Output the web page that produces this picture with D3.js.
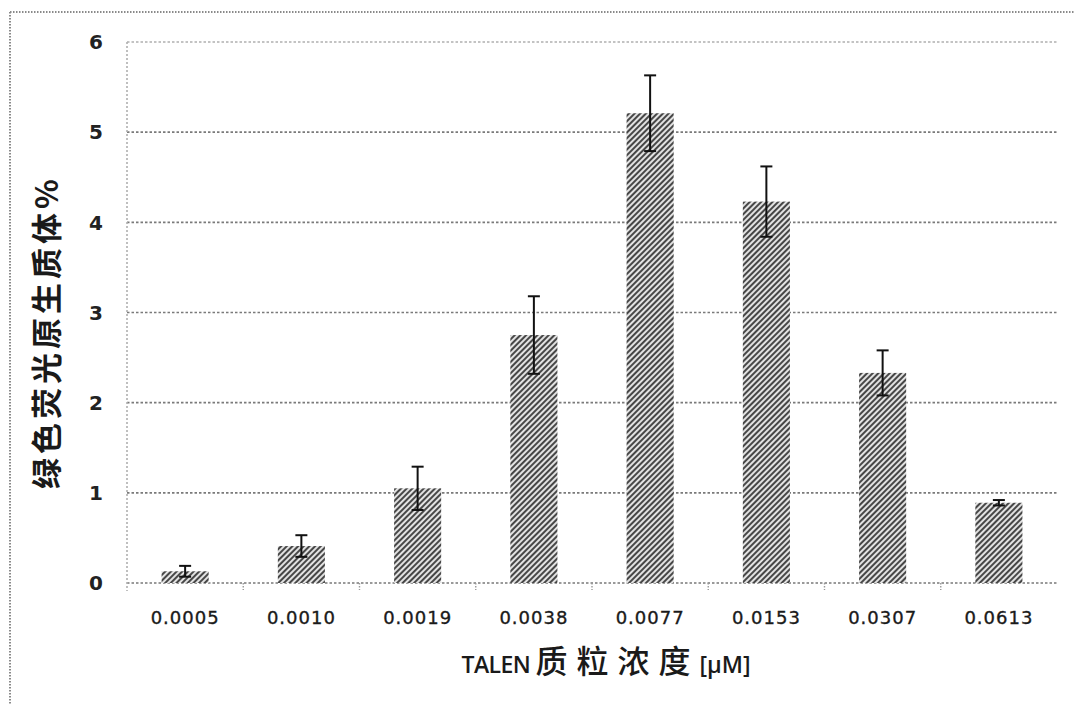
<!DOCTYPE html>
<html>
<head>
<meta charset="utf-8">
<script src="https://cdn.jsdelivr.net/npm/d3@7"></script>
<style>
  html, body { margin: 0; padding: 0; background: #fff; }
  svg { display: block; }
</style>
</head>
<body>
<svg id="chart" width="1075" height="705"></svg>
<script>
// Plasmid concentrations (µM) on the x axis
const concentrations = ["0.0005", "0.0010", "0.0019", "0.0038", "0.0077", "0.0153", "0.0307", "0.0613"];
// Mean percentage of GFP-positive protoplasts
const gfpPercent = [0.13, 0.41, 1.05, 2.75, 5.21, 4.23, 2.33, 0.89];
// Error bar half-widths
const gfpError = [0.06, 0.12, 0.24, 0.43, 0.42, 0.39, 0.25, 0.03];
// Y axis ticks
const yTicks = [0, 1, 2, 3, 4, 5, 6];

const svg = d3.select("#chart");
const margin = { left: 127, right: 18, top: 42, bottom: 122 };
const W = 1075, H = 705;

const x = d3.scaleBand()
  .domain(concentrations)
  .range([margin.left, W - margin.right])
  .paddingInner(0.595)
  .paddingOuter(0.2975);

const y = d3.scaleLinear()
  .domain([0, 6])
  .range([H - margin.bottom, margin.top]);

// Diagonal hatch used to fill the bars
const defs = svg.append("defs");
const pat = defs.append("pattern")
  .attr("id", "hatch")
  .attr("patternUnits", "userSpaceOnUse")
  .attr("width", 4)
  .attr("height", 4)
  .attr("patternTransform", "rotate(-45)");
pat.append("rect").attr("width", 4).attr("height", 4).attr("fill", "#e2e2e2");
pat.append("rect").attr("width", 4).attr("height", 2).attr("fill", "#474747");

// Outer frame (dotted, top and left)
svg.append("line")
  .attr("x1", 10).attr("x2", W).attr("y1", 12).attr("y2", 12)
  .attr("stroke", "#8a8a8a").attr("stroke-width", 2).attr("stroke-dasharray", "1.5,1.5");
svg.append("line")
  .attr("x1", 10).attr("x2", 10).attr("y1", 12).attr("y2", H)
  .attr("stroke", "#8a8a8a").attr("stroke-width", 2).attr("stroke-dasharray", "1.5,1.5");

// Horizontal gridlines
svg.append("g")
  .selectAll("line")
  .data(yTicks)
  .join("line")
  .attr("x1", margin.left)
  .attr("x2", W - margin.right)
  .attr("y1", d => y(d))
  .attr("y2", d => y(d))
  .attr("stroke", d => d === 6 ? "#b0b0b0" : "#7a7a7a")
  .attr("stroke-width", 1.6)
  .attr("stroke-dasharray", "2.5,2");

// Y axis line
svg.append("line")
  .attr("x1", margin.left).attr("x2", margin.left)
  .attr("y1", y(6)).attr("y2", y(0) + 8)
  .attr("stroke", "#b0b0b0").attr("stroke-width", 1.6).attr("stroke-dasharray", "2,2");

// Y tick labels
svg.append("g")
  .selectAll("text")
  .data(yTicks)
  .join("text")
  .attr("x", 96)
  .attr("y", d => y(d))
  .attr("dy", "0.36em")
  .attr("text-anchor", "middle")
  .attr("font-family", "DejaVu Sans")
  .attr("font-weight", "bold")
  .attr("font-size", 20)
  .attr("fill", "#222")
  .text(d => d);

// X axis small ticks at band boundaries
const step = x.step();
const boundaries = concentrations.map(c => x(c) + x.bandwidth() / 2 + step / 2).slice(0, -1);
svg.append("g")
  .selectAll("line")
  .data(boundaries)
  .join("line")
  .attr("x1", d => d).attr("x2", d => d)
  .attr("y1", y(0)).attr("y2", y(0) + 7)
  .attr("stroke", "#999").attr("stroke-width", 1.4).attr("stroke-dasharray", "1.5,1.5");

// Bars
svg.append("g")
  .selectAll("rect")
  .data(concentrations)
  .join("rect")
  .attr("x", d => x(d))
  .attr("y", (d, i) => y(gfpPercent[i]))
  .attr("width", x.bandwidth())
  .attr("height", (d, i) => y(0) - y(gfpPercent[i]))
  .attr("fill", "url(#hatch)");

// Error bars
const eb = svg.append("g").attr("stroke", "#111").attr("stroke-width", 2);
concentrations.forEach((c, i) => {
  const cx = x(c) + x.bandwidth() / 2;
  const hi = y(gfpPercent[i] + gfpError[i]);
  const lo = y(gfpPercent[i] - gfpError[i]);
  eb.append("line").attr("x1", cx).attr("x2", cx).attr("y1", hi).attr("y2", lo);
  eb.append("line").attr("x1", cx - 6).attr("x2", cx + 6).attr("y1", hi).attr("y2", hi);
  eb.append("line").attr("x1", cx - 6).attr("x2", cx + 6).attr("y1", lo).attr("y2", lo);
});

// X tick labels
svg.append("g")
  .selectAll("text")
  .data(concentrations)
  .join("text")
  .attr("x", d => x(d) + x.bandwidth() / 2)
  .attr("y", 624)
  .attr("text-anchor", "middle")
  .attr("font-family", "DejaVu Sans")
  .attr("font-size", 18)
  .attr("letter-spacing", 1)
  .attr("fill", "#1a1a1a")
  .attr("stroke", "#1a1a1a")
  .attr("stroke-width", 0.35)
  .text(d => d);

// X axis title
const xt = svg.append("text")
  .attr("x", 606)
  .attr("y", 673)
  .attr("text-anchor", "middle")
  .attr("fill", "#1a1a1a");
xt.append("tspan")
  .attr("font-family", "Open Sans")
  .attr("font-weight", "600")
  .attr("font-size", 23)
  .attr("letter-spacing", -0.6)
  .text("TALEN ");
xt.append("tspan")
  .attr("font-family", "Noto Sans CJK SC")
  .attr("font-weight", "500")
  .attr("font-size", 32)
  .attr("letter-spacing", 9)
  .text("质粒浓度");
xt.append("tspan")
  .attr("font-family", "Open Sans")
  .attr("font-weight", "600")
  .attr("font-size", 23)
  .text("[μM]");

// Y axis title
svg.append("text")
  .attr("transform", "translate(58,332) rotate(-90)")
  .attr("text-anchor", "middle")
  .attr("font-family", "Noto Sans CJK SC")
  .attr("font-weight", "700")
  .attr("font-size", 31)
  .attr("letter-spacing", 4)
  .attr("fill", "#1a1a1a")
  .text("绿色荧光原生质体%");
</script>
</body>
</html>
